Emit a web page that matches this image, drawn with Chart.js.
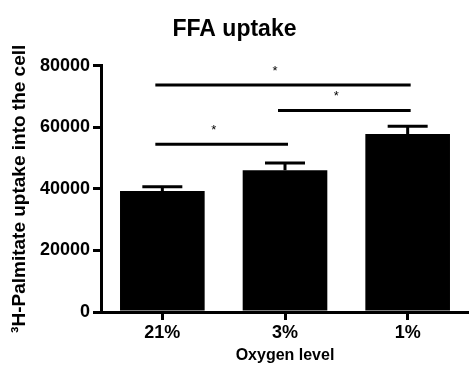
<!DOCTYPE html>
<html>
<head>
<meta charset="utf-8">
<script src="https://cdn.jsdelivr.net/npm/chart.js@4"></script>
<style>
  html, body { margin: 0; padding: 0; background: #fff; }
  #wrap { width: 469px; height: 365px; }
</style>
</head>
<body>
<div id="wrap"><canvas id="chart" width="469" height="365"></canvas></div>
<script>
// Data
const oxygenLevels = ['21%', '3%', '1%'];
const uptakeMeans = [39300, 46000, 57800];
const uptakeErrors = [1400, 2400, 2500];

// Significance brackets: from / to category index, height, label
const sigFrom = [0, 1, 0];
const sigTo = [2, 2, 1];
const sigHeight = [73700, 65400, 54500];
const sigLabel = ['*', '*', '*'];

const yTicks = [0, 20000, 40000, 60000, 80000];

const FONT = '"Liberation Sans", Arial, sans-serif';

// Draw the upper error bars
const errorBarPlugin = {
    id: 'errorBars',
    afterDatasetsDraw(chart) {
        const ctx = chart.ctx;
        const x = chart.scales.x;
        const y = chart.scales.y;
        ctx.save();
        ctx.strokeStyle = '#000';
        ctx.lineWidth = 3;
        uptakeMeans.forEach((m, i) => {
            const cx = x.getPixelForValue(i);
            const yTop = y.getPixelForValue(m + uptakeErrors[i]);
            const yBar = y.getPixelForValue(m);
            ctx.beginPath();
            ctx.moveTo(cx, yBar);
            ctx.lineTo(cx, yTop);
            ctx.moveTo(cx - 20, yTop);
            ctx.lineTo(cx + 20, yTop);
            ctx.stroke();
        });
        ctx.restore();
    }
};

// Draw the significance lines and stars
const sigPlugin = {
    id: 'significance',
    afterDraw(chart) {
        const ctx = chart.ctx;
        const x = chart.scales.x;
        const y = chart.scales.y;
        ctx.save();
        ctx.strokeStyle = '#000';
        ctx.fillStyle = '#000';
        ctx.lineWidth = 3;
        ctx.font = '13px ' + FONT;
        ctx.textAlign = 'center';
        ctx.textBaseline = 'middle';
        sigHeight.forEach((h, i) => {
            const x1 = x.getPixelForValue(sigFrom[i]) - 7;
            const x2 = x.getPixelForValue(sigTo[i]) + 3;
            const yy = y.getPixelForValue(h);
            ctx.beginPath();
            ctx.moveTo(x1, yy);
            ctx.lineTo(x2, yy);
            ctx.stroke();
            ctx.fillText(sigLabel[i], (x1 + x2) / 2 - 8, yy - 14);
        });
        ctx.restore();
    }
};

const ctx = document.getElementById('chart').getContext('2d');
new Chart(ctx, {
    type: 'bar',
    data: {
        labels: oxygenLevels,
        datasets: [{
            data: uptakeMeans,
            backgroundColor: '#000',
            borderWidth: 0,
            categoryPercentage: 1,
            barPercentage: 0.69
        }]
    },
    options: {
        responsive: false,
        animation: false,
        layout: { padding: { left: 0, right: 0, top: 0, bottom: 0 } },
        plugins: {
            legend: { display: false },
            tooltip: { enabled: false },
            title: {
                display: true,
                text: 'FFA uptake',
                color: '#000',
                font: { family: FONT, size: 23, weight: 'bold' },
                padding: { top: 16, bottom: 22 }
            }
        },
        scales: {
            x: {
                afterFit: s => { s.height = 53; },
                grid: {
                    offset: false,
                    drawOnChartArea: false,
                    tickLength: 8,
                    lineWidth: 3,
                    color: '#000'
                },
                border: { display: true, width: 3, color: '#000' },
                ticks: {
                    color: '#000',
                    padding: 2,
                    font: { family: FONT, size: 18, weight: 'bold' }
                },
                title: {
                    display: true,
                    text: 'Oxygen level',
                    color: '#000',
                    padding: { top: 0, bottom: 0 },
                    font: { family: FONT, size: 16, weight: 'bold' }
                }
            },
            y: {
                min: 0,
                max: 80000,
                afterFit: s => { s.width = 101; },
                afterBuildTicks: s => { s.ticks = yTicks.map(v => ({ value: v })); },
                grid: {
                    drawOnChartArea: false,
                    tickLength: 8,
                    lineWidth: 3,
                    color: '#000'
                },
                border: { display: true, width: 3, color: '#000' },
                ticks: {
                    color: '#000',
                    padding: 3,
                    font: { family: FONT, size: 18, weight: 'bold' },
                    callback: v => String(v)
                },
                title: {
                    display: true,
                    text: '³H-Palmitate uptake into the cell',
                    color: '#000',
                    padding: { top: 8, bottom: 0 },
                    font: { family: FONT, size: 19, weight: 'bold' }
                }
            }
        }
    },
    plugins: [errorBarPlugin, sigPlugin]
});
</script>
</body>
</html>
